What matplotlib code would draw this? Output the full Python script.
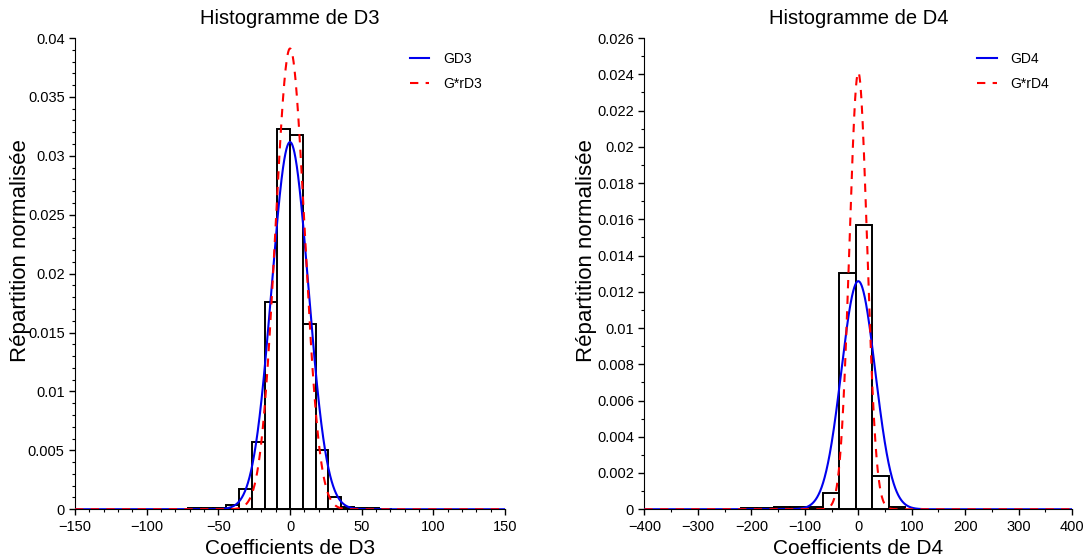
import numpy as np
import matplotlib
matplotlib.use("Agg")
import matplotlib.pyplot as plt
from matplotlib.ticker import MultipleLocator

plt.rcParams['font.family'] = ['Liberation Sans', 'DejaVu Sans']

# histogram of D3 (bin edges, normalised heights)
d3_edges = [-71.2, -62.3, -53.4, -44.5, -35.6, -26.7, -17.8, -8.9, 0.0,
            8.9, 17.8, 26.7, 35.6, 44.5, 53.4, 62.3, 71.2]
d3_heights = [0.00007, 0.00013, 0.00014, 0.00037, 0.00172, 0.00569, 0.01763, 0.0323,
              0.0318, 0.01571, 0.00504, 0.00107, 0.00022, 0.00012, 0.00007, 0.00004]
# gaussian fits (mean, sigma)
gd3 = (0.0, 12.8)
grd3 = (0.0, 10.2)

# histogram of D4
d4_edges = [-219.4, -188.7, -158.0, -127.3, -96.6, -65.9, -35.2, -4.5,
            26.2, 56.9, 87.6]
d4_heights = [0.00008, 0.00008, 0.00012, 0.00012, 0.00012, 0.0009, 0.01306,
              0.0157, 0.00182, 0.0001]
gd4 = (0.0, 31.7)
grd4 = (0.0, 16.55)


def gauss(x, mu, s):
    return np.exp(-0.5 * ((x - mu) / s) ** 2) / (s * np.sqrt(2 * np.pi))


def panel(ax, edges, heights, fit, fit_r, name, xlim, ylim, xmaj, xmin, ymaj, ymin):
    edges = np.array(edges)
    ax.bar(edges[:-1], heights, width=np.diff(edges), align='edge',
           facecolor='white', edgecolor='black', linewidth=1.4, zorder=1)
    x = np.linspace(xlim[0], xlim[1], 2000)
    ax.plot(x, gauss(x, *fit), color='#0000ee', lw=1.5, label='G' + name, zorder=3)
    ax.plot(x, gauss(x, *fit_r), color='#ff0000', lw=1.5, ls=(0, (4, 3.5)),
            label='G*r' + name, zorder=3)
    ax.set_xlim(xlim)
    ax.set_ylim(ylim)
    ax.xaxis.set_major_locator(MultipleLocator(xmaj))
    ax.xaxis.set_minor_locator(MultipleLocator(xmin))
    ax.yaxis.set_major_locator(MultipleLocator(ymaj))
    ax.yaxis.set_minor_locator(MultipleLocator(ymin))
    ax.yaxis.set_major_formatter(lambda v, p: ('%g' % round(v, 6)))
    ax.xaxis.set_major_formatter(lambda v, p: ('%g' % v).replace('-', '\u2212'))
    for s in ('top', 'right'):
        ax.spines[s].set_visible(False)
    ax.tick_params(which='major', direction='out', length=4, width=1, labelsize=10.5)
    ax.tick_params(which='minor', direction='out', length=2.5, width=0.8)
    ax.set_title('Histogramme de ' + name, fontsize=14.5, pad=10)
    ax.set_xlabel('Coefficients de ' + name, fontsize=15, labelpad=4)
    ax.set_ylabel('Répartition normalisée', fontsize=16)
    ax.legend(loc='upper right', frameon=False, fontsize=10, handlelength=1.4,
              handletextpad=1.0, labelspacing=0.8,
              bbox_to_anchor=(0.979, 1.0), borderaxespad=0.6)


fig = plt.figure(figsize=(10.83, 5.59), dpi=100)
ax1 = fig.add_axes([0.0693, 0.089, 0.397, 0.843])
ax2 = fig.add_axes([0.595, 0.089, 0.395, 0.843])

panel(ax1, d3_edges, d3_heights, gd3, grd3, 'D3', (-150, 150), (0, 0.04),
      50, 10, 0.005, 0.001)
panel(ax2, d4_edges, d4_heights, gd4, grd4, 'D4', (-400, 400), (0, 0.026),
      100, 50, 0.002, 0.001)
ax1.yaxis.set_label_coords(-0.102, 0.55)
ax2.yaxis.set_label_coords(-0.110, 0.55)

fig.savefig('out.png', dpi=100)
